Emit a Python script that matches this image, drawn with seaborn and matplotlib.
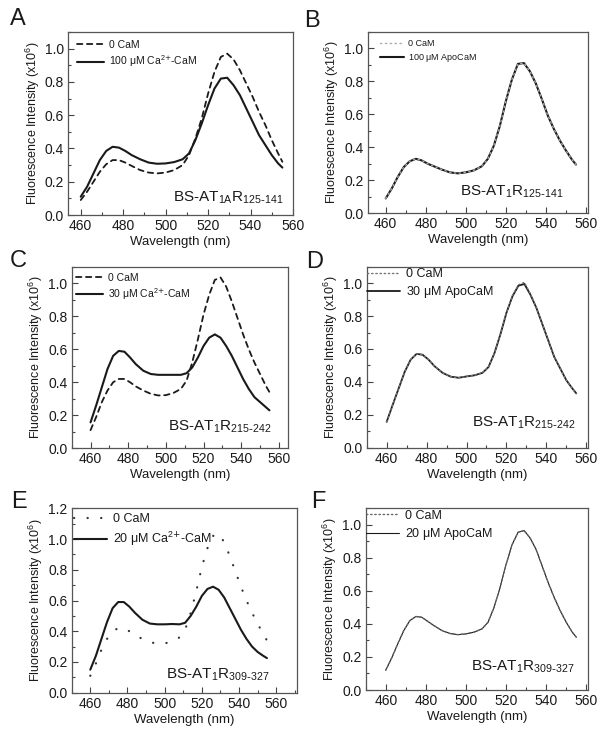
import numpy as np
import pandas as pd
import seaborn as sns
import matplotlib.pyplot as plt
from matplotlib.ticker import MultipleLocator, FormatStrFormatter

# emission spectra (intensity in units of 1e6)
wl = [460, 463, 466, 469, 472, 475, 478, 481, 484, 488, 492, 496, 500, 504, 508, 511,
      514, 517, 520, 523, 526, 529, 532, 535, 538, 541, 544, 547, 550, 553, 555]

a_zero = [0.09, 0.14, 0.20, 0.26, 0.305, 0.33, 0.33, 0.315, 0.295, 0.27, 0.255, 0.25, 0.255, 0.27, 0.30, 0.36,
          0.46, 0.58, 0.73, 0.86, 0.95, 0.97, 0.935, 0.87, 0.79, 0.71, 0.62, 0.54, 0.45, 0.37, 0.32]
a_ca = [0.11, 0.17, 0.25, 0.33, 0.385, 0.41, 0.405, 0.385, 0.36, 0.335, 0.315, 0.308, 0.31, 0.318, 0.335, 0.37,
        0.45, 0.55, 0.66, 0.76, 0.82, 0.825, 0.78, 0.72, 0.64, 0.56, 0.48, 0.42, 0.36, 0.31, 0.285]

b_zero = [0.09, 0.15, 0.22, 0.28, 0.315, 0.33, 0.32, 0.30, 0.285, 0.265, 0.248, 0.242, 0.248, 0.26, 0.285, 0.33,
          0.41, 0.53, 0.68, 0.81, 0.905, 0.91, 0.86, 0.785, 0.69, 0.59, 0.51, 0.44, 0.38, 0.325, 0.295]
b_apo = [0.09, 0.15, 0.22, 0.28, 0.315, 0.33, 0.32, 0.30, 0.285, 0.265, 0.248, 0.242, 0.248, 0.26, 0.285, 0.33,
         0.41, 0.53, 0.68, 0.81, 0.905, 0.91, 0.86, 0.785, 0.69, 0.59, 0.51, 0.44, 0.38, 0.325, 0.295]

c_zero = [0.11, 0.19, 0.28, 0.35, 0.40, 0.42, 0.42, 0.40, 0.375, 0.35, 0.33, 0.32, 0.322, 0.335, 0.36, 0.41,
          0.52, 0.66, 0.81, 0.93, 1.02, 1.035, 0.98, 0.89, 0.79, 0.69, 0.60, 0.52, 0.45, 0.38, 0.34]
c_ca = [0.157, 0.26, 0.37, 0.48, 0.56, 0.59, 0.585, 0.55, 0.51, 0.47, 0.45, 0.445, 0.445, 0.445, 0.445, 0.455,
        0.49, 0.55, 0.62, 0.67, 0.69, 0.67, 0.62, 0.56, 0.49, 0.42, 0.36, 0.31, 0.28, 0.25, 0.23]

d_zero = [0.157, 0.26, 0.36, 0.46, 0.535, 0.57, 0.565, 0.535, 0.495, 0.455, 0.432, 0.425, 0.433, 0.44, 0.455, 0.49,
          0.575, 0.69, 0.82, 0.925, 0.99, 1.005, 0.935, 0.85, 0.75, 0.65, 0.55, 0.48, 0.41, 0.36, 0.33]
d_apo = [0.157, 0.26, 0.36, 0.46, 0.535, 0.57, 0.565, 0.535, 0.495, 0.455, 0.432, 0.425, 0.433, 0.44, 0.455, 0.49,
         0.575, 0.69, 0.82, 0.92, 0.985, 0.995, 0.93, 0.85, 0.75, 0.65, 0.55, 0.48, 0.41, 0.36, 0.33]

e_zero = [0.11, 0.19, 0.28, 0.35, 0.40, 0.42, 0.42, 0.40, 0.375, 0.35, 0.33, 0.318, 0.32, 0.335, 0.36, 0.41,
          0.52, 0.66, 0.82, 0.94, 1.02, 1.035, 0.98, 0.89, 0.79, 0.69, 0.60, 0.52, 0.45, 0.38, 0.34]
e_ca = [0.15, 0.24, 0.35, 0.46, 0.55, 0.59, 0.59, 0.56, 0.52, 0.475, 0.45, 0.445, 0.445, 0.447, 0.445, 0.455,
        0.50, 0.56, 0.63, 0.675, 0.69, 0.67, 0.62, 0.55, 0.48, 0.41, 0.35, 0.30, 0.265, 0.24, 0.225]

f_zero = [0.12, 0.195, 0.28, 0.36, 0.42, 0.445, 0.44, 0.415, 0.39, 0.36, 0.342, 0.335, 0.34, 0.35, 0.37, 0.41,
          0.50, 0.62, 0.76, 0.88, 0.955, 0.965, 0.92, 0.85, 0.75, 0.65, 0.56, 0.48, 0.41, 0.35, 0.32]
f_apo = [0.12, 0.195, 0.28, 0.36, 0.42, 0.445, 0.44, 0.415, 0.39, 0.36, 0.342, 0.335, 0.34, 0.35, 0.37, 0.41,
         0.50, 0.62, 0.76, 0.88, 0.955, 0.965, 0.92, 0.85, 0.75, 0.65, 0.56, 0.48, 0.41, 0.35, 0.32]

sns.set_theme(style='ticks')
plt.rcParams['font.family'] = ['Liberation Sans', 'DejaVu Sans']
plt.rcParams['mathtext.default'] = 'regular'

W, H = 613, 743
fig = plt.figure(figsize=(W / 100, H / 100), dpi=100)

ink = '#1a1a1a'


def make_ax(left, right, top, bottom):
    return fig.add_axes([left / W, 1 - bottom / H, (right - left) / W, (bottom - top) / H])


def style_ax(ax, xlim, ytop):
    ax.set_xlim(*xlim)
    ax.set_ylim(0, ytop)
    ax.xaxis.set_major_locator(MultipleLocator(20))
    ax.xaxis.set_minor_locator(MultipleLocator(10))
    ax.yaxis.set_major_locator(MultipleLocator(0.2))
    ax.yaxis.set_minor_locator(MultipleLocator(0.1))
    ax.yaxis.set_major_formatter(FormatStrFormatter('%.1f'))
    ax.tick_params(which='both', direction='in', top=False, right=False,
                   colors='#444444', labelcolor=ink, width=0.8)
    ax.tick_params(which='major', length=4, labelsize=10, pad=3)
    ax.tick_params(which='minor', length=2)
    for s in ax.spines.values():
        s.set_color('#555555')
        s.set_linewidth(0.9)
    ax.set_xlabel('Wavelength (nm)', fontsize=9.5, color=ink, labelpad=2)
    ax.set_ylabel('Fluorescence Intensity (x10$^{6}$)', fontsize=9, color=ink, labelpad=2)


ca_sup = 'Ca$^{2\\text{+}}$-CaM'

panels = [
    dict(letter='A', box=(68, 293, 32, 215), xlim=(454, 560), ytop=1.1,
         zero=a_zero, treat=a_ca, lab='100 $\\mu$M ' + ca_sup,
         zls=(0, (3, 2.5)), zcol=ink, zlw=1.3, tlw=1.5, lfs=7.5, lpos=(0.02, 0.98),
         ann='BS-AT$_{1A}$R$_{125\\text{-}141}$', apos=(0.96, 0.05)),
    dict(letter='B', box=(367.7, 588, 31.7, 213.3), xlim=(451, 561), ytop=1.1,
         zero=b_zero, treat=b_apo, lab='100 $\\mu$M ApoCaM',
         zls=(0, (1, 2.5)), zcol='#aaaaaa', zlw=1.0, tlw=1.5, lfs=6.5, lpos=(0.04, 0.98),
         ann='BS-AT$_{1}$R$_{125\\text{-}141}$', apos=(0.89, 0.075)),
    dict(letter='C', box=(71.7, 288.3, 266.7, 448.3), xlim=(450, 565), ytop=1.1,
         zero=c_zero, treat=c_ca, lab='30 $\\mu$M ' + ca_sup,
         zls=(0, (3, 2.5)), zcol=ink, zlw=1.3, tlw=1.5, lfs=7.5, lpos=(0.0, 0.99),
         ann='BS-AT$_{1}$R$_{215\\text{-}242}$', apos=(0.92, 0.075)),
    dict(letter='D', box=(366.7, 588.3, 266.7, 447.7), xlim=(450, 561), ytop=1.1,
         zero=d_zero, treat=d_apo, lab='30 $\\mu$M ApoCaM',
         zls=(0, (1, 2)), zcol='#777777', zlw=1.0, tlw=1.3, lfs=9, lpos=(-0.02, 1.02),
         ann='BS-AT$_{1}$R$_{215\\text{-}242}$', apos=(0.94, 0.09)),
    dict(letter='E', box=(71.7, 296.7, 508.3, 692.7), xlim=(450, 571), ytop=1.2,
         zero=e_zero, treat=e_ca, lab='20 $\\mu$M ' + ca_sup,
         zls=(0, (0.1, 6)), zcol='#333333', zlw=1.6, tlw=1.5, lfs=9, lpos=(-0.01, 1.0),
         ann='BS-AT$_{1}$R$_{309\\text{-}327}$', apos=(0.88, 0.055)),
    dict(letter='F', box=(365.7, 588.3, 508.3, 690), xlim=(450, 561), ytop=1.1,
         zero=f_zero, treat=f_apo, lab='20 $\\mu$M ApoCaM',
         zls=(0, (1, 2)), zcol='#666666', zlw=1.0, tlw=0.8, lfs=9, lpos=(-0.02, 1.02),
         ann='BS-AT$_{1}$R$_{309\\text{-}327}$', apos=(0.94, 0.085)),
]

letter_pos = {'A': (10, 8), 'B': (304, 10), 'C': (10, 250), 'D': (306, 251), 'E': (11, 491), 'F': (311, 491)}

for p in panels:
    ax = make_ax(*p['box'])
    df = pd.DataFrame({'wl': wl, 'zero': p['zero'], 'treat': p['treat']})
    sns.lineplot(data=df, x='wl', y='treat', ax=ax, color=ink, lw=p['tlw'], label=p['lab'])
    sns.lineplot(data=df, x='wl', y='zero', ax=ax, color=p['zcol'], lw=p['zlw'],
                 linestyle=p['zls'], dash_capstyle='round', label='0 CaM')
    style_ax(ax, p['xlim'], p['ytop'])
    h, l = ax.get_legend_handles_labels()
    ax.legend(h[::-1], l[::-1], loc='upper left', bbox_to_anchor=p['lpos'], frameon=False,
              fontsize=p['lfs'], handlelength=2.6, handletextpad=0.5, labelspacing=0.35,
              borderaxespad=0.2, borderpad=0.2, labelcolor=ink)
    ax.text(p['apos'][0], p['apos'][1], p['ann'], transform=ax.transAxes, ha='right', va='bottom',
            fontsize=11, color=ink)
    lx, ly = letter_pos[p['letter']]
    fig.text(lx / W, 1 - ly / H, p['letter'], fontsize=17, color=ink, ha='left', va='top')

fig.savefig('out.png', dpi=100)
